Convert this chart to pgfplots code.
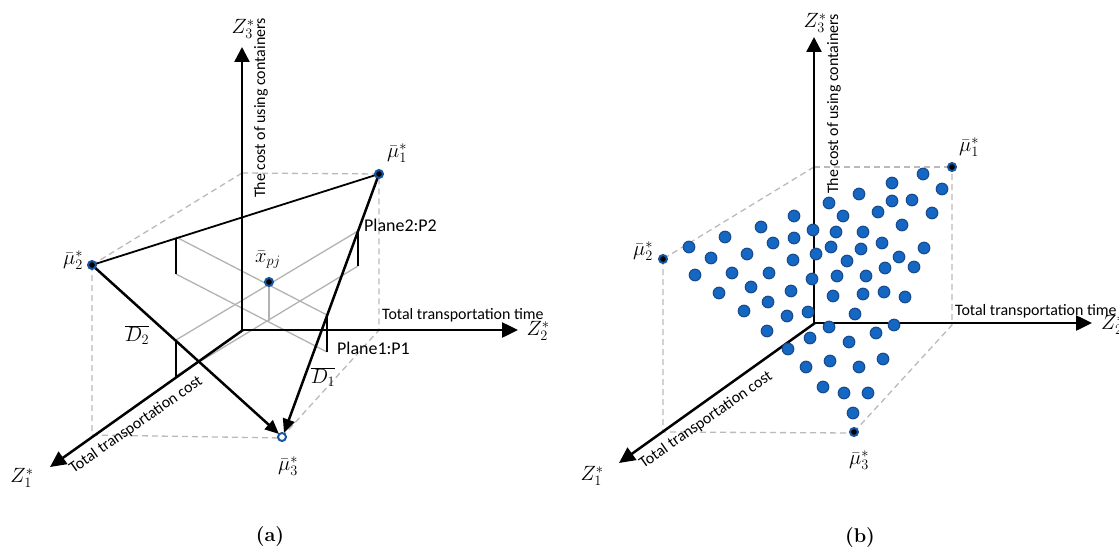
\documentclass[border=0pt]{standalone}
\usepackage{pgfplots}
\pgfplotsset{compat=1.18}
\usetikzlibrary{arrows.meta}
\usepackage{fontspec}
\newfontfamily\carl{Carlito}
\definecolor{dotblue}{RGB}{21,103,196}
\definecolor{dotedge}{RGB}{24,74,140}
\definecolor{ringblue}{RGB}{22,86,160}
\definecolor{dgray}{RGB}{190,184,184}
\definecolor{lgray}{RGB}{178,178,178}
\begin{document}
\begin{tikzpicture}[x=1bp,y=1bp]
\begin{axis}[at={(0,0)},anchor=south west,scale only axis,width=1119bp,height=553bp,
  xmin=0,xmax=1119,ymin=0,ymax=553,y dir=reverse,hide axis,clip=false]
% ===================== panel (a) =====================
% dashed box
\addplot[dgray,line width=1.3bp,dash pattern=on 6bp off 4bp] coordinates {(242,173)(379,174)};
\addplot[dgray,line width=1.3bp,dash pattern=on 6bp off 4bp] coordinates {(242,173)(92,265)};
\addplot[dgray,line width=1.3bp,dash pattern=on 6bp off 4bp] coordinates {(92,265)(92,435)(282,438)};
\addplot[dgray,line width=1.3bp,dash pattern=on 6bp off 4bp] coordinates {(282,437)(379,330)(379,174)};
% gray plane lines
\addplot[lgray,line width=1.3bp] coordinates {(358,231)(176,340)};
\addplot[lgray,line width=1.3bp] coordinates {(358,266)(176,376)};
\addplot[lgray,line width=1.3bp] coordinates {(176,237)(327,315)};
\addplot[lgray,line width=1.3bp] coordinates {(176,274)(327,352)};
\addplot[lgray,line width=1.3bp] coordinates {(269,283)(269,321)};
% black plane verticals
\addplot[black,line width=1.8bp] coordinates {(176,238)(176,274)};
\addplot[black,line width=1.8bp] coordinates {(358,231)(358,266)};
\addplot[black,line width=1.8bp] coordinates {(327,315)(327,352)};
\addplot[black,line width=1.8bp] coordinates {(176,340)(176,377)};
% axes
\addplot[black,line width=2.5bp,-{Triangle[width=15bp,length=15bp]}] coordinates {(242,331)(242,47)};
\addplot[black,line width=2.5bp,-{Triangle[width=15bp,length=16bp]}] coordinates {(241,330)(518,330)};
\addplot[black,line width=2.5bp,-{Triangle[width=15bp,length=16bp]}] coordinates {(243,330)(50,467)};
% triangle edges
\addplot[black,line width=1.8bp] coordinates {(92,265)(379,174)};
\addplot[only marks,mark=*,mark size=4bp,mark options={fill=white,draw=ringblue,line width=2bp}] coordinates {(282,437)};
\addplot[black,line width=2.5bp,-{Triangle[width=12bp,length=14bp]}] coordinates {(92,265)(279,434)};
\addplot[black,line width=2.5bp,-{Triangle[width=12bp,length=14bp]}] coordinates {(379,174)(284,433)};
% points
\addplot[only marks,mark=*,mark size=4bp,mark options={fill=black,draw=ringblue,line width=2bp}] coordinates {(379,174)(92,265)(269,282)};
% labels
\node[font=\fontsize{22}{26}\selectfont] at (243,29) {$Z_3^*$};
\node[font=\fontsize{22}{26}\selectfont] at (538,331) {$Z_2^*$};
\node[font=\fontsize{22}{26}\selectfont] at (22,478) {$Z_1^*$};
\node[font=\fontsize{21}{25}\selectfont] at (397,153) {$\bar{\mu}_1^*$};
\node[font=\fontsize{21}{25}\selectfont] at (73,260) {$\bar{\mu}_2^*$};
\node[font=\fontsize{21}{25}\selectfont] at (288,466) {$\bar{\mu}_3^*$};
\node[font=\fontsize{22}{26}\selectfont] at (268,260) {$\bar{x}_{pj}$};
\node[font=\fontsize{21}{25}\selectfont] at (137,335) {$\overline{D_2}$};
\node[font=\fontsize{21}{25}\selectfont] at (323,377) {$\overline{D_1}$};
\node[font=\carl\fontsize{18}{21}\selectfont,anchor=west,inner sep=0] at (364,225) {Plane2:P2};
\node[font=\carl\fontsize{18}{21}\selectfont,anchor=west,inner sep=0] at (337,348) {Plane1:P1};
\node[font=\carl\fontsize{16}{19}\selectfont,anchor=west,inner sep=0] at (382,315) {Total transportation time};
\node[font=\carl\fontsize{16}{19}\selectfont,rotate=90,inner sep=0] at (261,108) {The cost of using containers};
\node[font=\carl\fontsize{16}{19}\selectfont,rotate=35,inner sep=0] at (136,425) {Total transportation cost};
\node[font=\fontsize{20}{24}\selectfont\bfseries] at (270,537) {(a)};
% ===================== panel (b) =====================
\addplot[dgray,line width=1.3bp,dash pattern=on 6bp off 4bp] coordinates {(814,167)(952,167)};
\addplot[dgray,line width=1.3bp,dash pattern=on 6bp off 4bp] coordinates {(814,167)(663,259)};
\addplot[dgray,line width=1.3bp,dash pattern=on 6bp off 4bp] coordinates {(663,259)(663,432)(854,433)};
\addplot[dgray,line width=1.3bp,dash pattern=on 6bp off 4bp] coordinates {(854,432)(952,325)(952,167)};
\addplot[black,line width=2.5bp,-{Triangle[width=15bp,length=15bp]}] coordinates {(814,324)(814,37)};
\addplot[black,line width=2.5bp,-{Triangle[width=15bp,length=16bp]}] coordinates {(813,323)(1092,323)};
\addplot[black,line width=2.5bp,-{Triangle[width=15bp,length=16bp]}] coordinates {(815,323)(619,463)};
\addplot[only marks,mark=*,mark size=5.8bp,mark options={fill=dotblue,draw=dotedge,line width=1.1bp}] coordinates {
(923,174)(942,189)(892,183)(859,194)(892,201)(912,200)(932,213)(829,203)(878,212)(843,216)
(902,225)(794,216)(761,227)(813,230)(836,232)(863,232)(725,237)(794,238)(773,243)(689,247)
(882,243)(831,247)(861,249)(924,248)(711,258)(747,254)(816,254)(793,260)(847,261)(899,257)
(885,268)(914,267)(695,275)(732,273)(769,273)(812,279)(837,276)(866,276)(751,287)(791,291)
(719,293)(768,302)(833,296)(863,294)(884,292)(905,297)(744,311)(808,312)(855,314)(787,316)
(767,331)(829,327)(894,325)(810,338)(849,342)(876,333)(788,349)(830,361)(806,367)(859,367)
(883,359)(823,387)(844,393)(868,393)(853,413)};
\addplot[only marks,mark=*,mark size=4bp,mark options={fill=black,draw=ringblue,line width=2bp}] coordinates {(952,167)(663,259)(854,432)};
\node[font=\fontsize{22}{26}\selectfont] at (815,23) {$Z_3^*$};
\node[font=\fontsize{22}{26}\selectfont,anchor=west,inner sep=0] at (1101,325) {$Z_2^*$};
\node[font=\fontsize{22}{26}\selectfont] at (592,476) {$Z_1^*$};
\node[font=\fontsize{21}{25}\selectfont] at (969,147) {$\bar{\mu}_1^*$};
\node[font=\fontsize{21}{25}\selectfont] at (643,251) {$\bar{\mu}_2^*$};
\node[font=\fontsize{21}{25}\selectfont] at (859,460) {$\bar{\mu}_3^*$};
\node[font=\carl\fontsize{16}{19}\selectfont,anchor=west,inner sep=0] at (955,311) {Total transportation time};
\node[font=\carl\fontsize{16}{19}\selectfont,rotate=90,inner sep=0] at (834,104) {The cost of using containers};
\node[font=\carl\fontsize{16}{19}\selectfont,rotate=35,inner sep=0] at (706,420) {Total transportation cost};
\node[font=\fontsize{20}{24}\selectfont\bfseries] at (860,538) {(b)};
\end{axis}
\pgfresetboundingbox
\path[use as bounding box] (0,0) rectangle (1119bp,553bp);
\end{tikzpicture}
\end{document}
